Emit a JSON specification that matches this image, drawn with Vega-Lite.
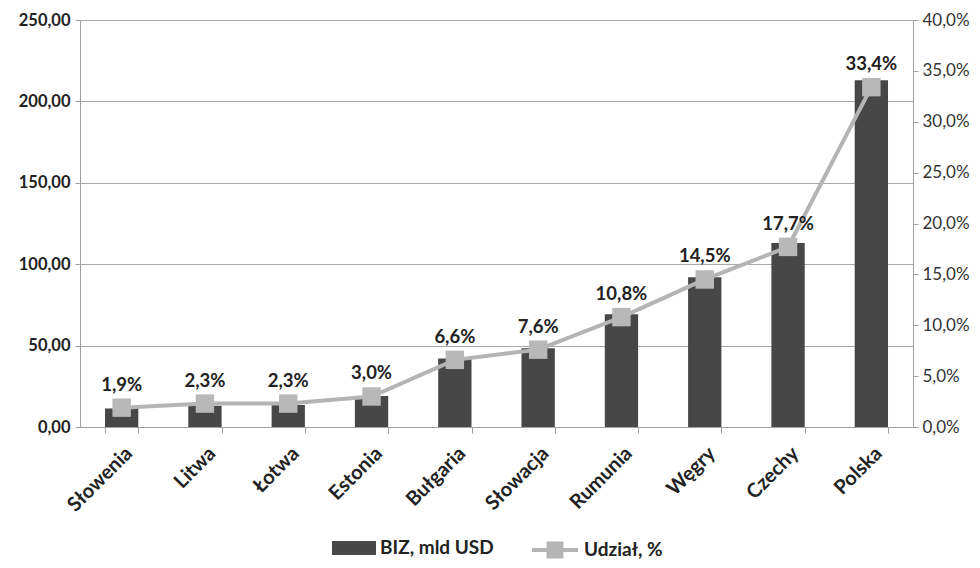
{
  "$schema": "https://vega.github.io/schema/vega-lite/v6.json",
  "width": 833,
  "height": 407,
  "autosize": {"type": "none"},
  "padding": {"left": 80, "top": 20, "right": 67, "bottom": 141},
  "background": "white",
  "config": {
    "locale": {"number": {"decimal": ",", "thousands": " ", "grouping": [3], "currency": ["", " zł"]}},
    "font": "Lato",
    "view": {"stroke": null},
    "axis": {"domainColor": "#a0a0a0", "tickColor": "#a0a0a0", "labelColor": "#222222"}
  },
  "data": {
    "values": [
      {"kraj": "Słowenia", "biz": 11.3, "udzial": 0.019},
      {"kraj": "Litwa", "biz": 13.0, "udzial": 0.023},
      {"kraj": "Łotwa", "biz": 13.5, "udzial": 0.023},
      {"kraj": "Estonia", "biz": 19.0, "udzial": 0.030},
      {"kraj": "Bułgaria", "biz": 42.0, "udzial": 0.066},
      {"kraj": "Słowacja", "biz": 48.3, "udzial": 0.076},
      {"kraj": "Rumunia", "biz": 69.2, "udzial": 0.108},
      {"kraj": "Węgry", "biz": 92.0, "udzial": 0.145},
      {"kraj": "Czechy", "biz": 113.0, "udzial": 0.177},
      {"kraj": "Polska", "biz": 213.0, "udzial": 0.334}
    ]
  },
  "encoding": {
    "x": {
      "field": "kraj",
      "type": "nominal",
      "sort": null,
      "scale": {"paddingInner": 0.6, "paddingOuter": 0.3},
      "axis": {
        "title": null,
        "labelAngle": -45,
        "labelFontSize": 20,
        "labelFontWeight": "bold",
        "labelColor": "#222222",
        "tickBand": "extent",
        "tickSize": 6,
        "labelPadding": 10,
        "labelDx": 4
      }
    }
  },
  "layer": [
    {
      "mark": {"type": "bar"},
      "encoding": {
        "y": {
          "field": "biz",
          "type": "quantitative",
          "scale": {"domain": [0, 250]},
          "axis": {
            "title": null,
            "values": [0, 50, 100, 150, 200, 250],
            "format": ".2f",
            "labelFontSize": 16.5,
            "labelFontWeight": "bold",
            "labelColor": "#222222",
            "gridColor": "#a8a8a8",
            "tickSize": 5,
            "labelPadding": 5
          }
        },
        "fill": {
          "datum": "BIZ, mld USD",
          "scale": {"range": ["#474747"]},
          "legend": {
            "orient": "none",
            "legendX": 252,
            "legendY": 506,
            "title": null,
            "padding": 0,
            "symbolType": "M-1,-0.32H1V0.32H-1Z",
            "symbolSize": 1936,
            "symbolStrokeWidth": 0,
            "labelFontSize": 19,
            "labelFontWeight": "bold",
            "labelColor": "#222222",
            "labelOffset": 4
          }
        }
      }
    },
    {
      "encoding": {
        "y": {
          "field": "udzial",
          "type": "quantitative",
          "scale": {"domain": [0, 0.4]},
          "axis": {
            "orient": "right",
            "title": null,
            "values": [0, 0.05, 0.1, 0.15, 0.2, 0.25, 0.3, 0.35, 0.4],
            "format": ".1%",
            "grid": false,
            "labelFontSize": 17,
            "labelColor": "#333333",
            "tickSize": 5,
            "labelPadding": 4
          }
        }
      },
      "layer": [
        {
          "mark": {"type": "line", "strokeWidth": 4},
          "encoding": {
            "stroke": {
              "datum": "Udział, %",
              "scale": {"range": ["#b4b4b4"]},
              "legend": {
                "orient": "none",
                "legendX": 450,
                "legendY": 505,
                "title": null,
                "padding": 0,
                "symbolType": "M-1,0H1M-0.28,-0.28H0.28V0.28H-0.28Z",
                "symbolSize": 2116,
                "symbolStrokeWidth": 4,
                "labelFontSize": 19,
                "labelFontWeight": "bold",
                "labelColor": "#222222",
                "labelOffset": 4,
                "encode": {"symbols": {"update": {"fill": {"value": "#b4b4b4"}, "stroke": {"value": "#b4b4b4"}}}}
              }
            }
          }
        },
        {
          "mark": {"type": "point", "shape": "square", "filled": true, "size": 340, "color": "#b8b8b8", "opacity": 1}
        },
        {
          "mark": {"type": "text", "dy": -23, "fontSize": 18.5, "fontWeight": "bold", "color": "#222222", "baseline": "middle"},
          "encoding": {"text": {"field": "udzial", "type": "quantitative", "format": ".1%"}}
        }
      ]
    }
  ],
  "resolve": {"scale": {"y": "independent"}}
}
